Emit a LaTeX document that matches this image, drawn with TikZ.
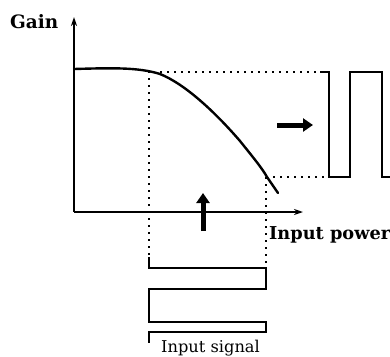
\documentclass[tikz,border=0pt]{standalone}
\usepackage{fontspec}
\setmainfont{DejaVu Serif}
\usetikzlibrary{arrows.meta}
\begin{document}
\begin{tikzpicture}[x=1bp,y=-1bp,
  axis/.style={line width=1.4bp,-{Stealth[length=9bp,width=6bp]}},
  gaincurve/.style={line width=2.4bp,line cap=round},
  guide/.style={line width=1.5bp,dash pattern=on 1.5bp off 5.5bp},
  signal/.style={line width=1.7bp},
  blockarrow/.style={line width=5bp,-{Triangle[length=10bp,width=13bp]}},
  boldlabel/.style={font=\fontsize{17.8}{21}\selectfont\bfseries,inner sep=0pt},
  plainlabel/.style={font=\fontsize{16.3}{19}\selectfont,inner sep=0pt}]
\useasboundingbox (0,0) rectangle (390,357);
% axes
\coordinate (O) at (74,212);
\coordinate (ytip) at (74,17);
\coordinate (xtip) at (303,212);
\draw[axis] (O) -- (ytip);
\draw[axis] (O) -- (xtip);
\node[boldlabel,anchor=base west,font=\fontsize{18.5}{21}\selectfont\bfseries] (gain) at (10,28) {Gain};
\node[boldlabel,anchor=base west] (power) at (269,239) {Input power};
% gain curve
\draw[gaincurve] (74,69) .. controls (110,68) and (138,67) .. (160,74)
  .. controls (185,84) and (215,112) .. (240,141)
  .. controls (252,156) and (262,168) .. (267,177)
  -- (278,193);
% guides
\coordinate (c1) at (149,71);
\coordinate (c2) at (266,177);
\coordinate (t1) at (160,72);
\coordinate (o1) at (320,72);
\coordinate (o2) at (329,177);
\coordinate (i1) at (149,257);
\coordinate (i2) at (266,267);
\draw[guide] (c1) -- (i1);
\draw[guide] (c2) -- (i2);
\draw[guide] (t1) -- (o1);
\draw[guide] (c2) -- (o2);
% output signal
\draw[signal] (o1) -- (329,72) -- (o2) -- (350,177) -- (350,72) -- (382,72) -- (382,177) -- (391,177);
% input signal
\draw[signal] (i1) -- (149,268) -- (266,268) -- (266,289) -- (149,289) -- (149,322) -- (266,322) -- (266,332) -- (149,332) -- (149,343);
\node[plainlabel,anchor=base west] (insig) at (161,352) {Input signal};
% block arrows
\coordinate (ua1) at (203,231);
\coordinate (ua2) at (203,193);
\coordinate (ra1) at (277,125);
\coordinate (ra2) at (313,125);
\draw[blockarrow] (ua1) -- (ua2);
\draw[blockarrow] (ra1) -- (ra2);
\end{tikzpicture}
\end{document}
